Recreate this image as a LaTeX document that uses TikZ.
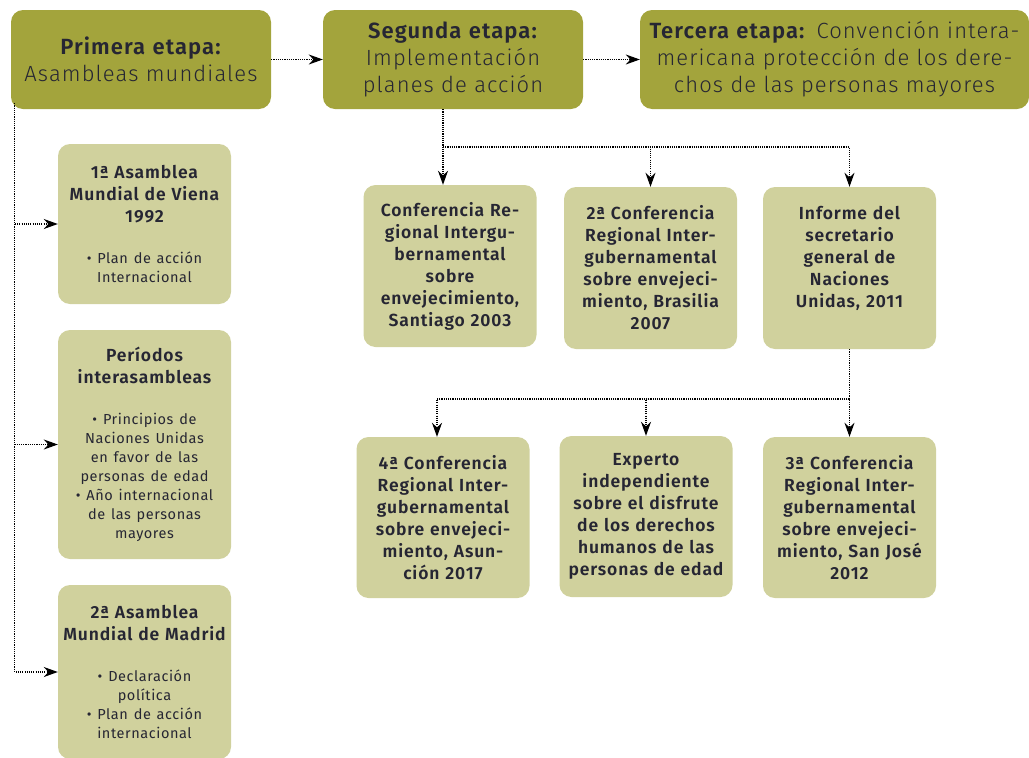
\documentclass[tikz,border=0pt]{standalone}
\usepackage{fontspec}
\setmainfont{Fira Sans}[UprightFont=* Light, BoldFont=* SemiBold, LetterSpace=5]
\newfontfamily\notefont{Fira Sans}[LetterSpace=4]
\usetikzlibrary{arrows.meta}

\definecolor{olivedark}{HTML}{A3A43C}
\definecolor{olivelight}{HTML}{D0D19D}
\definecolor{inkblue}{HTML}{262633}

\tikzset{
  stage/.style={fill=olivedark, rounded corners=12pt, text=inkblue, align=center,
    minimum height=99pt, inner sep=0pt, font=\fontsize{22}{27}\selectfont},
  item/.style={fill=olivelight, rounded corners=12pt, text=inkblue, align=center,
    minimum width=173pt, text width=170pt, inner sep=0pt,
    font=\bfseries\fontsize{17.5}{22}\selectfont},
  link/.style={draw=black, line width=1.1pt, dash pattern=on 1.1pt off 1.1pt,
    -{Stealth[length=14pt,width=10pt]}},
}
\newcommand{\bullets}[1]{\par\vspace{22pt}{\notefont\mdseries\fontsize{14.5}{19}\selectfont #1\par}}

\begin{document}
\begin{tikzpicture}[x=1pt,y=-1pt]
\clip (0,0) rectangle (1029,758);
% stages
\node[stage, minimum width=260pt, text width=256pt] (p1) at (141,59.5)
  {\textbf{Primera etapa:}\\Asambleas mundiales};
\node[stage, minimum width=260pt, text width=256pt] (s2) at (453,59.5)
  {\textbf{Segunda etapa:}\\Implementación\\planes de acción};
\node[stage, minimum width=389pt, text width=385pt] (t3) at (834.5,59.5)
  {\textbf{Tercera etapa:} Convención intera-\\mericana protección de los dere-\\chos de las personas mayores};

% first stage: assemblies
\node[item, minimum height=160pt] (viena) at (144.5,224)
  {1ª Asamblea\\Mundial de Viena\\1992\bullets{• Plan de acción\\Internacional}};
\node[item, minimum height=229pt] (periodos) at (144.5,444.5)
  {Períodos\\interasambleas\bullets{• Principios de\\Naciones Unidas\\en favor de las\\personas de edad\\• Año internacional\\de las personas\\mayores}};
\node[item, minimum height=174pt] (madrid) at (144.5,672)
  {2ª Asamblea\\Mundial de Madrid\bullets{• Declaración\\política\\• Plan de acción\\internacional}};

% second stage: conferences
\node[item, minimum height=162pt] (santiago) at (450,266)
  {Conferencia Re-\\gional Intergu-\\bernamental\\sobre\\envejecimiento,\\Santiago 2003};
\node[item, minimum height=162pt] (brasilia) at (650.5,268)
  {2ª Conferencia\\Regional Inter-\\gubernamental\\sobre envejeci-\\miento, Brasilia\\2007};
\node[item, minimum height=162pt] (informe) at (849.5,268)
  {Informe del\\secretario\\general de\\Naciones\\Unidas, 2011\\\mbox{}};

\node[item, minimum height=161pt] (asuncion) at (443,517.5)
  {4ª Conferencia\\Regional Inter-\\gubernamental\\sobre envejeci-\\miento, Asun-\\ción 2017};
\node[item, minimum height=161pt] (experto) at (646,516.5)
  {Experto\\independiente\\sobre el disfrute\\de los derechos\\humanos de las\\personas de edad};
\node[item, minimum height=161pt] (sanjose) at (849.5,517.5)
  {3ª Conferencia\\Regional Inter-\\gubernamental\\sobre envejeci-\\miento, San José\\2012};

% connectors
\draw[link] (p1) -- (s2);
\draw[link] (s2) -- (t3);
\draw[link] ([xshift=4pt,yshift=6pt]p1.south west) |- (viena);
\draw[link] ([xshift=4pt,yshift=6pt]p1.south west) |- (periodos);
\draw[link] ([xshift=4pt,yshift=6pt]p1.south west) |- (madrid);

\coordinate (upbus) at (443,147);
\draw[link] (s2.south -| upbus) -- (upbus) -- (santiago.north -| upbus);
\draw[link] (upbus) -| (brasilia);
\draw[link] (upbus) -| (informe);

\coordinate (lowbus) at (849.5,399);
\draw[link] (informe) -- (sanjose);
\draw[link] (lowbus) -| ([xshift=-6pt]asuncion.north);
\draw[link] (lowbus) -| (experto);
\end{tikzpicture}
\end{document}
